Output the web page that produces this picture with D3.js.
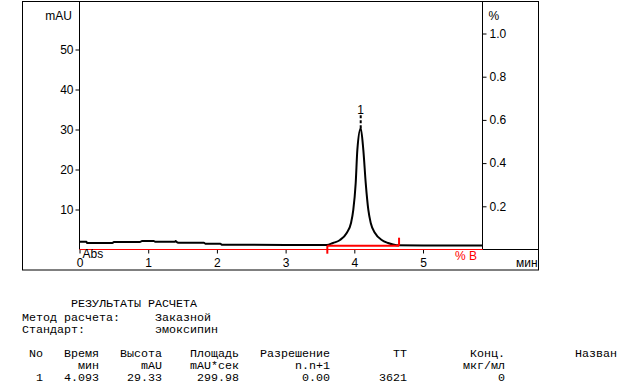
<!DOCTYPE html>
<html><head><meta charset="utf-8">
<script src="https://cdn.jsdelivr.net/npm/d3@7"></script>
<style>
html,body{margin:0;padding:0;background:#fff;}
svg{display:block;}
text{font-family:Arial,"Liberation Sans",sans-serif;}
.mono{font-family:"Courier New","Liberation Mono",monospace;font-size:11.67px;fill:#000;}
</style>
</head><body>
<svg id="c" width="635" height="392"></svg>
<script>
// ---- data ----
const traceTimes  = [0.00,0.10,0.11,0.48,0.50,0.88,0.91,1.08,1.10,1.39,1.40,1.41,1.44,1.81,1.83,2.05,2.07,3.00,3.60,3.690,3.792,3.889,3.952,3.985,4.020,4.044,4.093,4.131,4.166,4.204,4.239,4.301,4.399,4.491,4.617,5.00,5.87];
const traceValues = [1.96,1.96,1.63,1.63,1.88,1.88,2.13,2.13,1.96,1.96,2.13,1.96,1.71,1.71,1.46,1.46,1.18,1.15,1.12,1.63,2.38,4.13,6.63,9.88,16.6,24.9,30.3,24.9,16.6,9.88,6.63,4.13,2.38,1.63,1.08,1.02,1.02];
const peakLabels = ["1"];
const peakTimes  = [4.093];
const peakTops   = [30.3];
const integStart = [3.607];
const integEnd   = [4.651];
const integLevel = [0.95];
const xTicks = [0,1,2,3,4,5];
const yTicks = [10,20,30,40,50];
const pctTicks = [0.2,0.4,0.6,0.8,1.0];
const pctBTimes = [0,5.87];
const pctBValues = [0,0];

const tableTitle = "РЕЗУЛЬТАТЫ РАСЧЕТА";
const infoLabels = ["Метод расчета:","Стандарт:"];
const infoValues = ["Заказной","эмоксипин"];
const tableHeaders = ["No","Время","Высота","Площадь","Разрешение","ТТ","Конц.","Назван"];
const tableUnits   = ["","мин","mAU","mAU*сек","n.n+1","","мкг/мл",""];
const peakRow      = ["1","4.093","29.33","299.98","0.00","3621","0",""];

// ---- layout ----
const svg = d3.select("#c");
const L = 79.5, R = 482.5, T = 1.5, B = 249.5;
const x = d3.scaleLinear().domain([0,5.87]).range([L,482.8]);
const y = d3.scaleLinear().domain([0,62]).range([B,1.5]);
const yp = d3.scaleLinear().domain([0,1]).range([B,33.5]);

// outer frame
svg.append("rect").attr("x",22.5).attr("y",1.5).attr("width",516).attr("height",268.5)
  .attr("fill","none").attr("stroke","#000").attr("stroke-width",1);

// axes lines
svg.append("line").attr("x1",L).attr("x2",L).attr("y1",T).attr("y2",B).attr("stroke","#000");
svg.append("line").attr("x1",R).attr("x2",R).attr("y1",T).attr("y2",B).attr("stroke","#000");
svg.append("line").attr("x1",R).attr("x2",538.5).attr("y1",B).attr("y2",B).attr("stroke","#000");

// left axis
const gl = svg.append("g").attr("transform",`translate(${L},0)`)
  .call(d3.axisLeft(y).tickValues(yTicks).tickSize(4).tickPadding(2).tickFormat(d3.format("d")));
gl.select(".domain").remove();
gl.selectAll("text").attr("font-size",12).attr("font-family","Arial, 'Liberation Sans', sans-serif").attr("fill","#000");
gl.selectAll("line").attr("stroke","#000");

// right axis
const gr = svg.append("g").attr("transform",`translate(${R},0)`)
  .call(d3.axisRight(yp).tickValues(pctTicks).tickSize(4).tickPadding(3).tickFormat(d3.format(".1f")));
gr.select(".domain").remove();
gr.selectAll("text").attr("font-size",12).attr("font-family","Arial, 'Liberation Sans', sans-serif").attr("fill","#000");
gr.selectAll("line").attr("stroke","#000");

// bottom axis
const gb = svg.append("g").attr("transform",`translate(0,${B})`)
  .call(d3.axisBottom(x).tickValues(xTicks).tickSize(4).tickPadding(5).tickFormat(d3.format("d")));
gb.select(".domain").remove();
gb.selectAll("text").attr("font-size",12).attr("font-family","Arial, 'Liberation Sans', sans-serif").attr("fill","#000");
gb.selectAll("line").attr("stroke","#000");

// %B line (red)
svg.append("path").datum(pctBTimes.map((t,i)=>[t,pctBValues[i]]))
  .attr("d",d3.line().x(d=>x(d[0])).y(d=>yp(d[1])))
  .attr("stroke","#f00").attr("stroke-width",1).attr("fill","none");

// trace
const pts = traceTimes.map((t,i)=>[t,traceValues[i]]);
svg.append("path").datum(pts)
  .attr("d",d3.line().x(d=>x(d[0])).y(d=>y(d[1])).curve(d3.curveMonotoneX))
  .attr("stroke","#000").attr("stroke-width",2).attr("fill","none");

// integration marker
integStart.forEach((s,i)=>{
  const ys = y(integLevel[i]);
  const g = svg.append("g").attr("stroke","#f00").attr("stroke-width",2).attr("fill","none");
  g.append("line").attr("x1",x(s)).attr("x2",x(integEnd[i])).attr("y1",ys).attr("y2",ys);
  g.append("line").attr("x1",x(s)).attr("x2",x(s)).attr("y1",ys).attr("y2",ys+8);
  g.append("line").attr("x1",x(integEnd[i])).attr("x2",x(integEnd[i])).attr("y1",ys).attr("y2",ys-8);
});

// peak labels
peakLabels.forEach((lab,i)=>{
  const px = x(peakTimes[i]);
  svg.append("line").attr("x1",px).attr("x2",px).attr("y1",y(peakTops[i])).attr("y2",115)
    .attr("stroke","#000").attr("stroke-width",2).attr("stroke-dasharray","3,2");
  svg.append("text").attr("x",px).attr("y",114).attr("text-anchor","middle")
    .attr("font-size",12).attr("fill","#000").text(lab);
});

// axis titles
svg.append("text").attr("x",72).attr("y",19.5).attr("text-anchor","end").attr("font-size",12).attr("fill","#000").text("mAU");
svg.append("text").attr("x",488.5).attr("y",19.5).attr("font-size",12).attr("fill","#000").text("%");
svg.append("text").attr("x",82.5).attr("y",257.5).attr("font-size",12).attr("fill","#000").text("Abs");
svg.append("text").attr("x",455).attr("y",259.5).attr("font-size",12).attr("fill","#f00").text("% B");
svg.append("text").attr("x",516).attr("y",267).attr("font-size",12).attr("fill","#000").text("мин");

// ---- results table ----
const cw = 7, x0 = 22;
svg.append("text").attr("class","mono").attr("x",x0+7*cw).attr("y",306.5).text(tableTitle);
const infoY = [320.5,332.5];
infoLabels.forEach((l,i)=>{
  svg.append("text").attr("class","mono").attr("x",x0).attr("y",infoY[i]).text(l);
  svg.append("text").attr("class","mono").attr("x",x0+19*cw).attr("y",infoY[i]).text(infoValues[i]);
});
const colEnds = [3,11,20,31,44,55,69,85];
[[tableHeaders,357.3],[tableUnits,369],[peakRow,381]].forEach(([row,yy])=>{
  row.forEach((c,j)=>{
    if(!c) return;
    svg.append("text").attr("class","mono").attr("x",x0+colEnds[j]*cw).attr("y",yy)
      .attr("text-anchor","end").text(c);
  });
});
</script>
</body></html>
